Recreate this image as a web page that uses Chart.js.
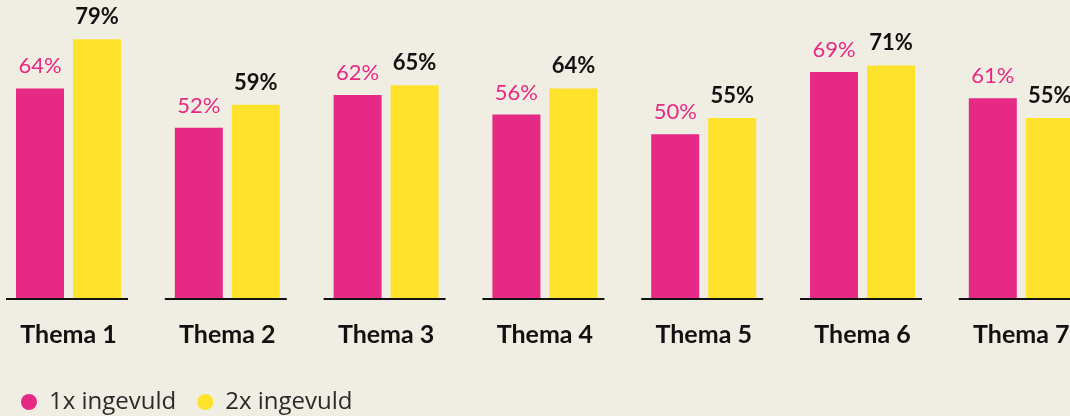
<!DOCTYPE html>
<html>
<head>
<meta charset="utf-8">
<script src="https://cdn.jsdelivr.net/npm/chart.js@4.4.1/dist/chart.umd.min.js"></script>
<style>
    html, body { margin: 0; padding: 0; background: #f0ede2; overflow: hidden; }
    #wrap { position: relative; width: 1120px; height: 424px; }
</style>
</head>
<body>
<div id="wrap"><canvas id="themaChart"></canvas></div>
<script>
var Categories = ['Thema 1', 'Thema 2', 'Thema 3', 'Thema 4', 'Thema 5', 'Thema 6', 'Thema 7']
var Ingevuld1x = [64, 52, 62, 56, 50, 69, 61]
var Ingevuld2x = [79, 59, 65, 64, 55, 71, 55]
var SeriesNames = ['1x ingevuld', '2x ingevuld']

var PINK = '#e62984'
var YELLOW = '#ffe22c'

function toPoints(values) {
    return values.map(function (v, i) { return { x: i, y: v } })
}

// line under each group + value labels above bars
var groupDecor = {
    id: 'groupDecor',
    beforeDatasetsDraw: function (chart) {
        var ctx = chart.ctx
        var x = chart.scales.x
        var bottom = chart.chartArea.bottom
        ctx.save()
        ctx.strokeStyle = '#111111'
        ctx.lineWidth = 2
        for (var i = 0; i < Categories.length; i++) {
            var cx = x.getPixelForValue(i)
            ctx.beginPath()
            ctx.moveTo(cx - 62.5, bottom + 1)
            ctx.lineTo(cx + 59.5, bottom + 1)
            ctx.stroke()
        }
        ctx.restore()
    },
    afterDatasetsDraw: function (chart) {
        var ctx = chart.ctx
        ctx.save()
        ctx.textAlign = 'center'
        ctx.textBaseline = 'alphabetic'
        chart.data.datasets.forEach(function (ds, d) {
            var meta = chart.getDatasetMeta(d)
            ctx.fillStyle = d === 0 ? PINK : '#111111'
            ctx.font = (d === 0 ? 'normal' : 'bold') + ' 22px Lato'
            meta.data.forEach(function (bar, i) {
                ctx.fillText(ds.data[i].y + '%', bar.x, bar.y - 15)
            })
        })
        ctx.restore()
    }
}

var config_Thema = {
    type: 'bar',
    data: {
        datasets: [
            {
                label: SeriesNames[0],
                data: toPoints(Ingevuld1x),
                backgroundColor: PINK,
            },
            {
                label: SeriesNames[1],
                data: toPoints(Ingevuld2x),
                backgroundColor: YELLOW,
            },
        ],
    },
    plugins: [groupDecor],
    options: {
        responsive: true,
        maintainAspectRatio: false,
        animation: false,
        categoryPercentage: 0.718,
        barPercentage: 0.842,
        layout: {
            padding: 0
        },
        plugins: {
            tooltip: { enabled: false },
            legend: {
                position: 'bottom',
                align: 'start',
                labels: {
                    usePointStyle: true,
                    pointStyle: 'circle',
                    boxHeight: 11.3,
                    pointStyleWidth: 16,
                    padding: 21,
                    color: '#2a2a2a',
                    font: {
                        family: 'Open Sans',
                        size: 24,
                    },
                },
            },
        },
        scales: {
            x: {
                type: 'linear',
                offset: false,
                min: -0.4314,
                max: -0.4314 + 1120 / 158.8,
                grid: { display: false, offset: false },
                border: { display: false },
                ticks: {
                    stepSize: 1,
                    includeBounds: false,
                    autoSkip: false,
                    maxRotation: 0,
                    padding: 14,
                    color: '#111111',
                    font: {
                        family: 'Lato',
                        size: 25,
                        weight: 'bold',
                    },
                    callback: function (v) { return Categories[v] || '' },
                },
                afterFit: function (scale) {
                    scale.height = 71
                },
            },
            y: {
                display: false,
                min: 0,
                max: 91,
            }
        }
    },
}

new Chart(document.getElementById('themaChart').getContext('2d'), config_Thema)
</script>
</body>
</html>
